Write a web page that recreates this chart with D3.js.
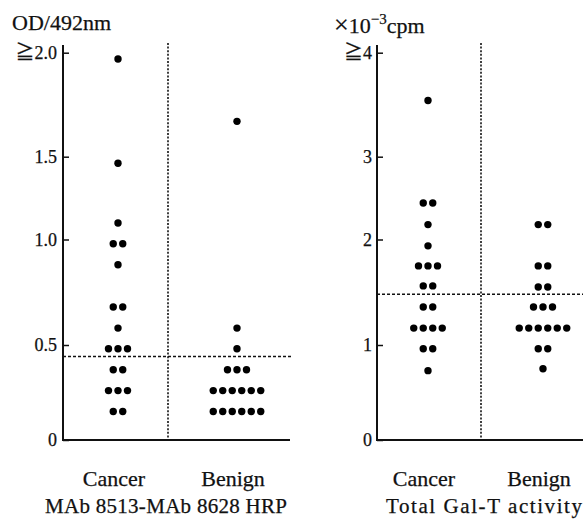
<!DOCTYPE html>
<html>
<head>
<meta charset="utf-8">
<script src="https://cdn.jsdelivr.net/npm/d3@7"></script>
<style>
  body { margin: 0; background: #fff; }
  svg { display: block; }
  text { font-family: "Liberation Serif", "Times New Roman", serif; fill: #111; stroke: #111; stroke-width: 0.25px; }
</style>
</head>
<body>
<svg id="chart" width="583" height="519"></svg>
<script>
// values (one entry per patient)
const groups = ["Cancer", "Benign"];
const odCancer = [1.97, 1.46, 1.10, 0.98, 0.98, 0.88, 0.68, 0.68, 0.58, 0.48, 0.48, 0.48, 0.37, 0.37, 0.26, 0.26, 0.26, 0.15, 0.15];
const odBenign = [1.67, 0.58, 0.48, 0.37, 0.37, 0.37, 0.26, 0.26, 0.26, 0.26, 0.26, 0.26, 0.15, 0.15, 0.15, 0.15, 0.15, 0.15];
const galCancer = [3.54, 2.44, 2.44, 2.18, 1.94, 1.75, 1.75, 1.75, 1.56, 1.56, 1.36, 1.36, 1.16, 1.16, 1.16, 1.16, 0.96, 0.96, 0.73];
const galBenign = [2.18, 2.18, 1.75, 1.75, 1.55, 1.55, 1.36, 1.36, 1.36, 1.16, 1.16, 1.16, 1.16, 1.16, 1.16, 0.96, 0.96, 0.75];
const odTicks = [0, 0.5, 1, 1.5, 2];
const galTicks = [0, 1, 2, 3, 4];
const odCutoff = 0.44;
const galCutoff = 1.48;

const svg = d3.select("#chart");
const y0 = 440, yTop = 45;
// the printed axis is not evenly spaced, so each tick gets its own stop
const tickPx = [440, 345, 239.5, 156.7, 52.7];

function panel(opts) {
    const g = svg.append("g");
    const y = d3.scaleLinear().domain(opts.ticks).range(tickPx);
    const x = d3.scalePoint().domain(groups).range(opts.cols);

    // divider and cut-off
    g.append("line")
        .attr("x1", opts.divider).attr("x2", opts.divider)
        .attr("y1", 43).attr("y2", y0)
        .attr("stroke", "#111").attr("stroke-width", 1.6)
        .attr("stroke-dasharray", "2,1.6");
    g.append("line")
        .attr("x1", opts.axisX).attr("x2", opts.right + 2)
        .attr("y1", y(opts.cutoff)).attr("y2", y(opts.cutoff))
        .attr("stroke", "#111").attr("stroke-width", 1.5)
        .attr("stroke-dasharray", "3,2");

    // axes
    const axis = d3.axisLeft(y)
        .tickValues(opts.ticks)
        .tickSizeInner(-6)
        .tickSizeOuter(0)
        .tickPadding(opts.pad)
        .tickFormat(opts.fmt);
    const ag = g.append("g")
        .attr("transform", `translate(${opts.axisX},0)`)
        .call(axis)
        .attr("font-family", '"Liberation Serif", serif')
        .attr("font-size", 18);
    ag.select(".domain").remove();
    ag.selectAll(".tick line").attr("stroke", "#111").attr("stroke-width", 1.5);
    ag.selectAll(".tick text").attr("fill", "#111");
    // top tick reads "≧ max": give the sign its own, larger glyph
    ag.selectAll(".tick text").filter(d => d === opts.ticks[opts.ticks.length - 1])
        .each(function () {
            const t = d3.select(this);
            const s = t.text().slice(1);
            t.text(null);
            t.append("tspan").style("font-family", '"Noto Sans CJK JP", sans-serif')
                .style("font-size", "19px").text("\u2267");
            t.append("tspan").text(s);
        });

    g.append("line")
        .attr("x1", opts.axisX).attr("x2", opts.axisX)
        .attr("y1", yTop).attr("y2", y0 + 1)
        .attr("stroke", "#111").attr("stroke-width", 2);
    g.append("line")
        .attr("x1", opts.axisX - 1).attr("x2", opts.right)
        .attr("y1", y0).attr("y2", y0)
        .attr("stroke", "#111").attr("stroke-width", 2);

    // dots, stacked side by side when they share a value
    const dots = [];
    opts.series.forEach((vals, gi) => {
        const rows = d3.group(vals, v => v);
        rows.forEach((arr, v) => {
            arr.forEach((_, i) => dots.push({ grp: groups[gi], v: v, off: i - (arr.length - 1) / 2 }));
        });
    });
    g.selectAll("circle").data(dots).enter().append("circle")
        .attr("cx", d => x(d.grp) + d.off * 9.5)
        .attr("cy", d => y(d.v))
        .attr("r", 3.7)
        .attr("fill", "#000");

    // category labels
    g.selectAll(".cat").data(groups).enter().append("text")
        .attr("class", "cat")
        .attr("x", d => x(d) - 4)
        .attr("y", 486)
        .attr("text-anchor", "middle")
        .style("font-size", "22px")
        .text(d => d);
    g.append("text")
        .attr("x", opts.titleX)
        .attr("y", 513)
        .attr("text-anchor", "middle")
        .attr("textLength", opts.titleW)
        .attr("lengthAdjust", "spacing")
        .style("font-size", "21px")
        .text(opts.title);
}

panel({
    ticks: odTicks, cols: [118, 237], divider: 168, axisX: 63, right: 290, pad: 6,
    cutoff: odCutoff, series: [odCancer, odBenign],
    fmt: d => d === 0 ? "0" : d === 2 ? "\u22672.0" : d.toFixed(1),
    title: "MAb 8513-MAb 8628 HRP", titleX: 166, titleW: 242
});
panel({
    ticks: galTicks, cols: [428, 543], divider: 481, axisX: 377, right: 585, pad: 5,
    cutoff: galCutoff, series: [galCancer, galBenign],
    fmt: d => d === 4 ? "\u22674" : String(d),
    title: "Total Gal-T activity", titleX: 484, titleW: 196
});

// unit labels
svg.append("text").attr("x", 12).attr("y", 30)
    .style("font-size", "22px").text("OD/492nm");
const u = svg.append("text").attr("x", 334).attr("y", 33).style("font-size", "22px");
u.append("tspan").style("font-size", "26px").text("\u00d7");
u.append("tspan").text("10");
u.append("tspan").attr("dy", -9).style("font-size", "15px").text("\u22123");
u.append("tspan").attr("dy", 9).text("cpm");
</script>
</body>
</html>
